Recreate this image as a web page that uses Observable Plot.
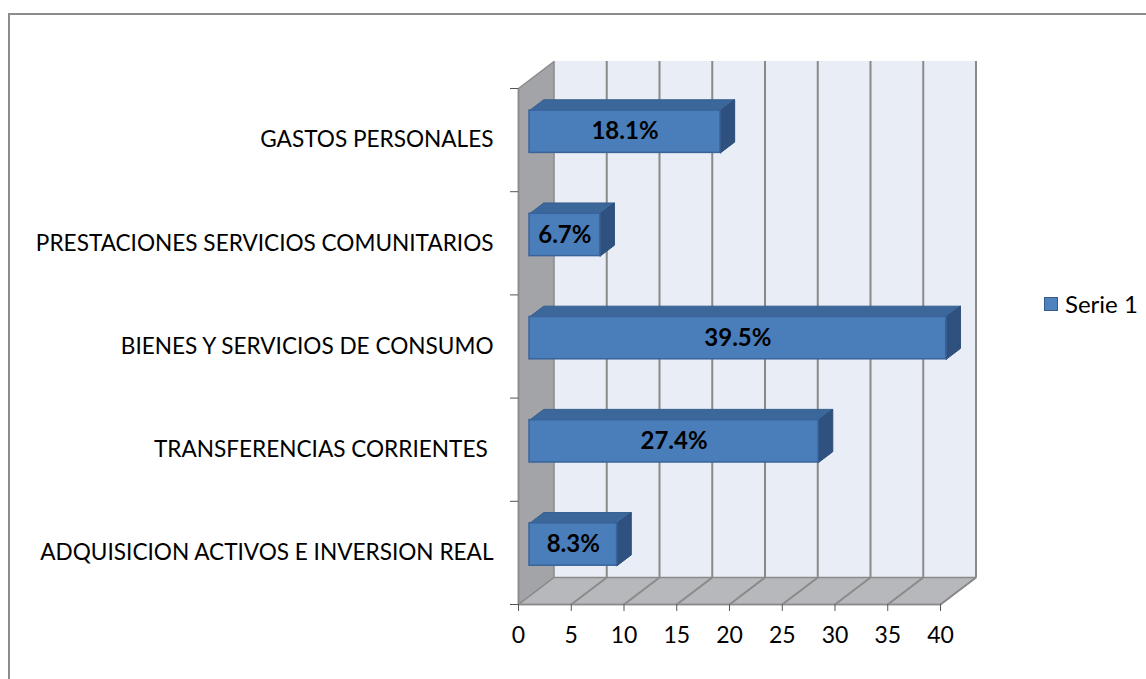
<!DOCTYPE html>
<html>
<head>
<meta charset="utf-8">
<script src="https://cdn.jsdelivr.net/npm/d3@7"></script>
<script src="https://cdn.jsdelivr.net/npm/@observablehq/plot@0.6"></script>
<style>
  html, body { margin: 0; padding: 0; background: #fff; }
  #wrap { position: relative; width: 1146px; height: 679px; overflow: hidden; font-family: Lato, "Open Sans", sans-serif; }
  #frame { position: absolute; left: 8px; top: 13px; width: 1200px; height: 800px; border-top: 2px solid #8c8c8c; border-left: 2px solid #8c8c8c; }
  #chart { position: absolute; left: 0; top: 0; }
  #chart svg text { white-space: pre; }
  #legend { position: absolute; left: 1044px; top: 289px; display: flex; align-items: center; font-size: 24px; color: #000; }
  #legend .sw { width: 12px; height: 12px; background: #4f81bd; border: 1px solid #385d8a; margin-right: 7px; }
</style>
</head>
<body>
<div id="wrap">
  <div id="frame"></div>
  <div id="chart"></div>
  <div id="legend"><span class="sw"></span><span>Serie 1</span></div>
</div>
<script>
// ---- data ----
const categories = [
  "ADQUISICION ACTIVOS E INVERSION REAL",
  "TRANSFERENCIAS CORRIENTES ",
  "BIENES Y SERVICIOS DE CONSUMO",
  "PRESTACIONES SERVICIOS COMUNITARIOS",
  "GASTOS PERSONALES"
];
const values = [8.3, 27.4, 39.5, 6.7, 18.1];
const valueLabels = ["8.3%", "27.4%", "39.5%", "6.7%", "18.1%"];
const xTicks = [0, 5, 10, 15, 20, 25, 30, 35, 40];
const seriesName = "Serie 1";

// ---- 3D oblique projection helpers (depth expressed in data units) ----
const XMAX = 40, NCAT = categories.length;
const DX = 3.365, DY = 0.2616;      // full depth offset
const D1 = 0.31, D2 = 0.71;         // bar front/back depth
const BH = 0.41;                    // bar thickness (category units)
const proj = (v, c, d) => ({x: v + d * DX, y: c + d * DY});
function poly(id, pts) { return pts.concat([pts[0]]).map(p => ({...p, id})); }

const backWall = [{x1: DX, x2: XMAX + DX, y1: DY, y2: NCAT + DY}];
const leftWall = poly("L", [proj(0,0,0), proj(0,NCAT,0), proj(0,NCAT,1), proj(0,0,1)]);
const floor = poly("F", [proj(0,0,0), proj(XMAX,0,0), proj(XMAX,0,1), proj(0,0,1)]);
const gridTicks = xTicks.slice(1);

const bars = categories.map((c, i) => ({cat: c, v: values[i], label: valueLabels[i], c: i + 0.5}));
const fronts = bars.map(b => ({x1: D1*DX, x2: b.v + D1*DX, y1: b.c - BH/2 + D1*DY, y2: b.c + BH/2 + D1*DY}));
const tops = bars.flatMap((b, i) => poly("T" + i, [
  proj(0, b.c + BH/2, D1), proj(b.v, b.c + BH/2, D1), proj(b.v, b.c + BH/2, D2), proj(0, b.c + BH/2, D2)]));
const sides = bars.flatMap((b, i) => poly("S" + i, [
  proj(b.v, b.c - BH/2, D1), proj(b.v, b.c + BH/2, D1), proj(b.v, b.c + BH/2, D2), proj(b.v, b.c - BH/2, D2)]));

const gridCol = "#8a8a8a";
document.querySelector("#legend span:last-child").textContent = seriesName;

const chart = Plot.plot({
  width: 1146,
  height: 679,
  marginLeft: 518,
  marginRight: 206,
  marginTop: 88,
  marginBottom: 75,
  x: {domain: [0, XMAX]},
  y: {domain: [0, NCAT]},
  style: {fontFamily: "Lato, 'Open Sans', sans-serif", fontSize: "23px", background: "transparent", color: "#000"},
  marks: [
    // back wall
    Plot.rect(backWall, {x1: "x1", x2: "x2", y1: "y1", y2: "y2", fill: "#e9edf5"}),
    Plot.ruleX(gridTicks, {x: d => d + DX, y1: DY, y2: NCAT + DY, stroke: gridCol, strokeWidth: 2}),
    // left wall
    Plot.line(leftWall, {x: "x", y: "y", z: "id", fill: "#a3a4a7", stroke: gridCol, strokeWidth: 1.5}),
    // floor
    Plot.line(floor, {x: "x", y: "y", z: "id", fill: "#b6b8bb", stroke: gridCol, strokeWidth: 1.5}),
    Plot.link(gridTicks, {x1: d => d, y1: 0, x2: d => d + DX, y2: DY, stroke: gridCol, strokeWidth: 2}),
    // bars
    Plot.line(tops, {x: "x", y: "y", z: "id", fill: "#3c679b", stroke: "#365e8e", strokeWidth: 1}),
    Plot.line(sides, {x: "x", y: "y", z: "id", fill: "#2f5180", stroke: "#2c4c78", strokeWidth: 1}),
    Plot.rect(fronts, {x1: "x1", x2: "x2", y1: "y1", y2: "y2", fill: "#4a7ebb", stroke: "#3a639a", strokeWidth: 1.5}),
    Plot.text(bars, {x: d => d.v / 2 + D1*DX, y: d => d.c + D1*DY, text: "label", fontWeight: "bold", fontSize: 24, fill: "#000"}),
    // category labels
    Plot.text(bars, {x: 0, y: "c", text: "cat", textAnchor: "end", dx: -25, fontSize: 22.6, fill: "#000"}),
    // axes
    Plot.ruleY([0], {x1: 0, x2: XMAX, stroke: gridCol, strokeWidth: 1.5}),
    Plot.ruleX([0], {y1: 0, y2: NCAT, stroke: gridCol, strokeWidth: 1.5}),
    Plot.axisY({ticks: d3.range(0, NCAT + 1), tickFormat: () => "", tickSize: 8, stroke: "#555", label: null}),
    Plot.axisX({ticks: xTicks, tickSize: 7, tickPadding: 15, fontSize: 23, stroke: "#555", fill: "#000", label: null})
  ]
});
document.getElementById("chart").appendChild(chart);
</script>
</body>
</html>
